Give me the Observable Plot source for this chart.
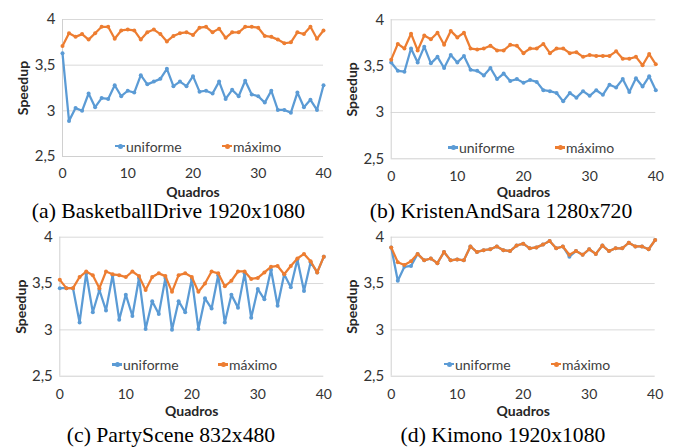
<!DOCTYPE html>
<html><head><meta charset="utf-8">
<script src="https://cdn.jsdelivr.net/npm/d3@7"></script>
<script src="https://cdn.jsdelivr.net/npm/@observablehq/plot@0.6"></script>
<style>
body{margin:0;background:#fff;}
#root{position:relative;width:676px;height:448px;overflow:hidden;font-family:Lato,sans-serif;}
.panel{position:absolute;width:338px;height:224px;}
.panel svg{position:absolute;left:0;top:0;}
.cap{position:absolute;top:200px;height:22px;line-height:22px;width:338px;text-align:center;font-family:"Liberation Serif","Times New Roman",serif;font-size:21.7px;color:#000;white-space:nowrap;}
.leg{position:absolute;display:flex;align-items:center;height:18px;font-size:14px;color:#404040;white-space:nowrap;}
.mk{display:inline-block;position:relative;width:10px;height:2.5px;margin-right:1px;}
.mk::after{content:"";position:absolute;left:2.5px;top:-1.25px;width:5px;height:5px;border-radius:50%;background:inherit;}
</style>
</head><body><div id="root"></div>
<script>
const quadros = d3.range(0, 41);
const xTicks = [0, 10, 20, 30, 40];
const yTicks = [2.5, 3, 3.5, 4];
const gridTicks = [3, 3.5, 4];
const seriesNames = ["uniforme", "máximo"];
const colors = ["#5B9BD5", "#ED7D31"];

const basketUniforme = [3.63,2.89,3.03,3.00,3.19,3.04,3.14,3.13,3.28,3.16,3.22,3.20,3.39,3.29,3.32,3.35,3.46,3.27,3.32,3.27,3.38,3.21,3.22,3.19,3.32,3.13,3.23,3.16,3.33,3.18,3.16,3.09,3.22,3.01,3.01,2.98,3.20,3.04,3.12,3.01,3.28];
const basketMaximo = [3.71,3.85,3.81,3.84,3.78,3.85,3.92,3.92,3.79,3.88,3.89,3.88,3.78,3.86,3.89,3.84,3.76,3.82,3.85,3.86,3.83,3.91,3.92,3.86,3.90,3.80,3.86,3.86,3.92,3.92,3.91,3.82,3.81,3.78,3.74,3.75,3.86,3.84,3.92,3.79,3.88];

const kristenUniforme = [3.54,3.45,3.44,3.69,3.54,3.71,3.53,3.60,3.48,3.62,3.54,3.61,3.46,3.45,3.40,3.48,3.36,3.42,3.34,3.36,3.32,3.35,3.33,3.24,3.23,3.21,3.12,3.21,3.16,3.23,3.18,3.24,3.19,3.30,3.27,3.36,3.22,3.37,3.28,3.39,3.24];
const kristenMaximo = [3.57,3.74,3.69,3.85,3.67,3.83,3.79,3.86,3.73,3.88,3.81,3.86,3.69,3.68,3.69,3.72,3.67,3.67,3.73,3.72,3.64,3.69,3.69,3.74,3.64,3.69,3.69,3.64,3.65,3.60,3.62,3.61,3.61,3.61,3.66,3.58,3.58,3.60,3.51,3.63,3.52];

const partyUniforme = [3.45,3.45,3.45,3.08,3.61,3.19,3.43,3.21,3.59,3.11,3.38,3.15,3.56,3.01,3.31,3.17,3.56,3.00,3.31,3.19,3.55,3.01,3.34,3.23,3.59,3.08,3.38,3.24,3.61,3.13,3.44,3.33,3.65,3.26,3.60,3.46,3.76,3.42,3.73,3.62,3.79];
const partyMaximo = [3.54,3.45,3.45,3.57,3.63,3.59,3.45,3.63,3.60,3.59,3.57,3.63,3.58,3.43,3.57,3.61,3.58,3.41,3.59,3.61,3.57,3.41,3.50,3.63,3.61,3.47,3.53,3.63,3.63,3.55,3.56,3.62,3.68,3.69,3.60,3.69,3.77,3.82,3.74,3.62,3.79];

const kimonoUniforme = [3.89,3.53,3.68,3.69,3.82,3.75,3.77,3.72,3.84,3.75,3.76,3.75,3.90,3.84,3.86,3.87,3.90,3.86,3.85,3.91,3.93,3.88,3.89,3.92,3.96,3.88,3.90,3.79,3.85,3.81,3.87,3.82,3.91,3.85,3.88,3.88,3.94,3.90,3.90,3.87,3.97];
const kimonoMaximo = [3.89,3.73,3.70,3.74,3.82,3.75,3.77,3.72,3.84,3.75,3.76,3.75,3.90,3.84,3.86,3.87,3.90,3.86,3.85,3.91,3.93,3.88,3.89,3.92,3.96,3.88,3.90,3.81,3.85,3.81,3.87,3.82,3.91,3.85,3.88,3.88,3.94,3.90,3.90,3.87,3.97];

const captions = ["(a) BasketballDrive 1920x1080", "(b) KristenAndSara 1280x720", "(c) PartyScene 832x480", "(d) Kimono 1920x1080"];

const panels = [
  {left:0, top:0, uni:basketUniforme, max:basketMaximo, cap:captions[0], capC:168.5, mt:19, pb:156, ml:62, pr:323, tp:11.5, lo:40, legY:146, legU:115, legM:222},
  {left:338, top:0, uni:kristenUniforme, max:kristenMaximo, cap:captions[1], capC:163, mt:19.3, pb:158.3, ml:52.7, pr:317.3, tp:12.5, lo:38, legY:147.7, legU:110, legM:217},
  {left:0, top:224, uni:partyUniforme, max:partyMaximo, cap:captions[2], capC:171, mt:12.7, pb:151.7, ml:59.3, pr:323.3, tp:12.5, lo:39.5, legY:140.7, legU:112, legM:218},
  {left:338, top:224, uni:kimonoUniforme, max:kimonoMaximo, cap:captions[3], capC:165, mt:12.7, pb:151.7, ml:52.7, pr:316.7, tp:12.5, lo:39.5, legY:140, legU:106, legM:213}
];

const root = document.getElementById("root");
const W = 338, H = 198;
const comma = d => String(d).replace(".", ",");

for (const p of panels) {
  const div = document.createElement("div");
  div.className = "panel";
  div.style.left = p.left + "px";
  div.style.top = p.top + "px";
  const u = quadros.map((q, i) => ({q, v: p.uni[i]}));
  const m = quadros.map((q, i) => ({q, v: p.max[i]}));
  const chart = Plot.plot({
    width: W, height: H,
    marginTop: p.mt, marginBottom: H - p.pb, marginLeft: p.ml, marginRight: W - p.pr,
    style: {fontFamily: "Lato, sans-serif", background: "transparent", overflow: "visible"},
    x: {domain: [0, 40]},
    y: {domain: [2.5, 4]},
    marks: [
      Plot.gridY(gridTicks, {stroke: "#d9d9d9", strokeOpacity: 1, strokeWidth: 1}),
      Plot.ruleY([2.5], {stroke: "#d0d0d0", strokeWidth: 1}),
      Plot.ruleX([0], {stroke: "#d0d0d0", strokeWidth: 1}),
      Plot.axisY(yTicks, {tickSize: 0, tickPadding: 7, tickFormat: comma, fontSize: 15, fill: "#333",
        label: "Speedup", labelAnchor: "center", labelOffset: 44, labelArrow: "none"}),
      Plot.axisX(xTicks, {tickSize: 0, tickPadding: p.tp, fontSize: 14, fill: "#333",
        label: "Quadros", labelAnchor: "center", labelOffset: p.lo, labelArrow: "none"}),
      Plot.line(u, {x: "q", y: "v", stroke: colors[0], strokeWidth: 2.25}),
      Plot.dot(u, {x: "q", y: "v", fill: colors[0], r: 2}),
      Plot.line(m, {x: "q", y: "v", stroke: colors[1], strokeWidth: 2.25}),
      Plot.dot(m, {x: "q", y: "v", fill: colors[1], r: 2})
    ]
  });
  chart.querySelectorAll("g[aria-label='x-axis label'] text, g[aria-label='y-axis label'] text").forEach(t => {
    t.textContent = t.textContent.replace(/[\s\u2190-\u21FF]+/g, "");
    t.setAttribute("font-weight", "bold"); t.setAttribute("font-size", "14"); t.setAttribute("fill", "#262626");
  });
  div.appendChild(chart);

  [[p.legU, 0], [p.legM, 1]].forEach(([x, k]) => {
    const lg = document.createElement("div");
    lg.className = "leg";
    lg.style.left = x + "px";
    lg.style.top = (p.legY - 9) + "px";
    const mk = document.createElement("span");
    mk.className = "mk";
    mk.style.background = colors[k];
    lg.appendChild(mk);
    lg.appendChild(document.createTextNode(seriesNames[k]));
    div.appendChild(lg);
  });

  const cap = document.createElement("div");
  cap.className = "cap";
  cap.style.left = (p.capC - W / 2) + "px";
  cap.textContent = p.cap;
  div.appendChild(cap);
  root.appendChild(div);
}
</script></body></html>
